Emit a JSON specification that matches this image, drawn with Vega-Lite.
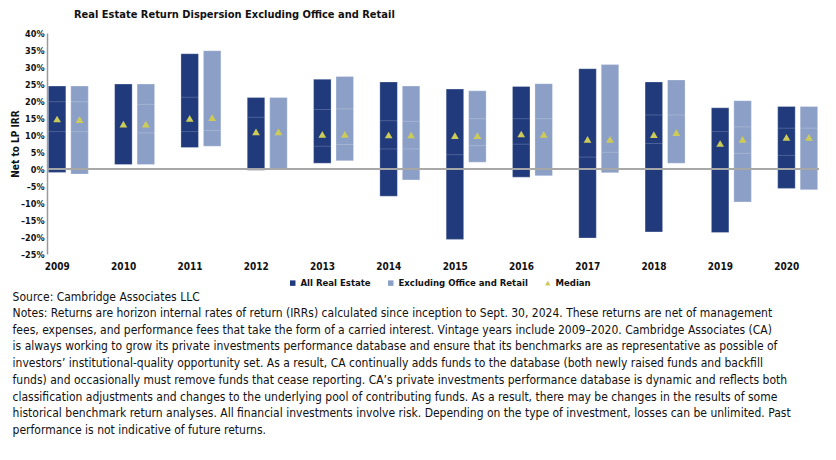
{
  "$schema": "https://vega.github.io/schema/vega-lite/v6.json",
  "background": "white",
  "padding": {"left": 10, "top": 9, "right": 5, "bottom": 5},
  "config": {
    "font": "DejaVu Sans Condensed",
    "view": {"stroke": null},
    "concat": {"spacing": 0},
    "axisY": {
      "labelOverlap": false, "domain": true, "domainColor": "#9a9a9a", "domainWidth": 1.5, "domainOpacity": 1,
      "grid": false, "ticks": false, "tickCount": 13,
      "labelFontWeight": "bold", "labelFontSize": 9, "labelColor": "#111111", "labelPadding": 3,
      "titleFontWeight": "bold", "titleFontSize": 10, "titleColor": "#111111", "titlePadding": 0
    }
  },
  "title": {
    "text": "Source: Cambridge Associates LLC",
    "subtitle": [
      "Notes: Returns are horizon internal rates of return (IRRs) calculated since inception to Sept. 30, 2024. These returns are net of management",
      "fees, expenses, and performance fees that take the form of a carried interest. Vintage years include 2009–2020. Cambridge Associates (CA)",
      "is always working to grow its private investments performance database and ensure that its benchmarks are as representative as possible of",
      "investors’ institutional-quality opportunity set. As a result, CA continually adds funds to the database (both newly raised funds and backfill",
      "funds) and occasionally must remove funds that cease reporting. CA’s private investments performance database is dynamic and reflects both",
      "classification adjustments and changes to the underlying pool of contributing funds. As a result, there may be changes in the results of some",
      "historical benchmark return analyses. All financial investments involve risk. Depending on the type of investment, losses can be unlimited. Past",
      "performance is not indicative of future returns."
    ],
    "orient": "bottom",
    "anchor": "start",
    "frame": "bounds",
    "font": "DejaVu Sans Condensed",
    "fontSize": 12,
    "fontWeight": "normal",
    "color": "#111111",
    "subtitleFont": "DejaVu Sans Condensed",
    "subtitleFontSize": 12,
    "subtitleColor": "#111111",
    "subtitleLineHeight": 16.7,
    "subtitlePadding": 4,
    "offset": 4,
    "dx": 2
  },
  "vconcat": [
    {
      "width": 772,
      "height": 221,
      "title": {
        "text": "Real Estate Return Dispersion Excluding Office and Retail",
        "anchor": "start",
        "frame": "group",
        "dx": 27,
        "fontSize": 11,
        "fontWeight": "bold",
        "color": "#111111",
        "offset": 9
      },
      "data": {
        "values": [
          {"year": "2009", "series": "All Real Estate", "low": -1.0, "high": 24.4, "median": 14.7, "q1": 11.0, "q3": 19.8},
          {"year": "2009", "series": "Excluding Office and Retail", "low": -1.5, "high": 24.4, "median": 14.5, "q1": 11.0, "q3": 19.8},
          {"year": "2010", "series": "All Real Estate", "low": 1.3, "high": 25.0, "median": 13.2, "q1": null, "q3": null},
          {"year": "2010", "series": "Excluding Office and Retail", "low": 1.3, "high": 25.0, "median": 13.2, "q1": 10.6, "q3": 19.0},
          {"year": "2011", "series": "All Real Estate", "low": 6.3, "high": 33.9, "median": 14.9, "q1": 11.0, "q3": 21.1},
          {"year": "2011", "series": "Excluding Office and Retail", "low": 6.7, "high": 34.8, "median": 15.1, "q1": 11.3, "q3": null},
          {"year": "2012", "series": "All Real Estate", "low": -0.4, "high": 21.0, "median": 10.9, "q1": null, "q3": 15.2},
          {"year": "2012", "series": "Excluding Office and Retail", "low": 0.1, "high": 21.0, "median": 10.9, "q1": null, "q3": null},
          {"year": "2013", "series": "All Real Estate", "low": 1.7, "high": 26.4, "median": 10.2, "q1": 6.7, "q3": 17.5},
          {"year": "2013", "series": "Excluding Office and Retail", "low": 2.4, "high": 27.2, "median": 10.2, "q1": 7.2, "q3": 17.7},
          {"year": "2014", "series": "All Real Estate", "low": -8.0, "high": 25.6, "median": 10.0, "q1": 5.9, "q3": 14.2},
          {"year": "2014", "series": "Excluding Office and Retail", "low": -3.2, "high": 24.4, "median": 10.0, "q1": 5.9, "q3": 14.0},
          {"year": "2015", "series": "All Real Estate", "low": -20.7, "high": 23.5, "median": 9.8, "q1": 4.2, "q3": null},
          {"year": "2015", "series": "Excluding Office and Retail", "low": 2.0, "high": 23.0, "median": 9.8, "q1": 6.9, "q3": 14.8},
          {"year": "2016", "series": "All Real Estate", "low": -2.4, "high": 24.3, "median": 10.3, "q1": 7.3, "q3": 14.8},
          {"year": "2016", "series": "Excluding Office and Retail", "low": -2.0, "high": 25.1, "median": 10.2, "q1": null, "q3": 14.8},
          {"year": "2017", "series": "All Real Estate", "low": -20.3, "high": 29.5, "median": 8.7, "q1": 3.5, "q3": null},
          {"year": "2017", "series": "Excluding Office and Retail", "low": -1.1, "high": 30.7, "median": 8.7, "q1": 4.9, "q3": null},
          {"year": "2018", "series": "All Real Estate", "low": -18.5, "high": 25.6, "median": 10.1, "q1": 7.5, "q3": 15.9},
          {"year": "2018", "series": "Excluding Office and Retail", "low": 1.7, "high": 26.2, "median": 10.7, "q1": null, "q3": 15.9},
          {"year": "2019", "series": "All Real Estate", "low": -18.7, "high": 18.0, "median": 7.5, "q1": null, "q3": 11.0},
          {"year": "2019", "series": "Excluding Office and Retail", "low": -9.7, "high": 20.1, "median": 8.7, "q1": 4.6, "q3": 12.4},
          {"year": "2020", "series": "All Real Estate", "low": -5.7, "high": 18.4, "median": 9.3, "q1": 4.0, "q3": 12.0},
          {"year": "2020", "series": "Excluding Office and Retail", "low": -6.1, "high": 18.4, "median": 9.3, "q1": null, "q3": 12.0}
        ]
      },
      "encoding": {
        "x": {
          "field": "year", "type": "nominal",
          "scale": {"paddingInner": 0.397, "paddingOuter": 0.02},
          "axis": {
            "title": null, "domain": false, "ticks": false, "labelAngle": 0,
            "labelFontWeight": "bold", "labelFontSize": 10, "labelColor": "#111111",
            "labelPadding": 7, "labelOffset": -11
          }
        },
        "xOffset": {
          "field": "series", "type": "nominal",
          "sort": ["All Real Estate", "Excluding Office and Retail"],
          "scale": {"paddingInner": 0.22}
        }
      },
      "layer": [
        {
          "mark": {"type": "bar", "stroke": "#ffffff", "strokeOpacity": 0.35, "strokeWidth": 0.8},
          "encoding": {
            "y": {
              "field": "low", "type": "quantitative",
              "scale": {"domain": [-25, 40], "nice": false, "zero": false},
              "axis": {"title": "Net to LP IRR", "labelOverlap": false, "labelExpr": "datum.value < 0 ? '–' + (-datum.value) + '%' : datum.value + '%'"}
            },
            "y2": {"field": "high"},
            "color": {
              "field": "series", "type": "nominal",
              "scale": {
                "domain": ["All Real Estate", "Excluding Office and Retail", "Median"],
                "range": ["#203a7c", "#8ca0c7", "#cdcb58"]
              },
              "legend": {
                "title": null, "orient": "none", "direction": "horizontal",
                "legendX": 241, "legendY": 245, "padding": 0,
                "symbolSize": 30, "symbolStrokeWidth": 0,
                "labelFontWeight": "bold", "labelFontSize": 9.5, "labelColor": "#111111",
                "columnPadding": 15, "labelOffset": 3,
                "encoding": {
                  "symbols": {
                    "shape": {"condition": {"test": "datum.value === 'Median'", "value": "triangle-up"}, "value": "square"}
                  }
                }
              }
            }
          }
        },
        {
          "mark": {"type": "tick", "color": "#ffffff", "opacity": 0.2, "thickness": 1, "size": 17},
          "encoding": {
            "y": {"field": "q1", "type": "quantitative"}
          }
        },
        {
          "mark": {"type": "tick", "color": "#ffffff", "opacity": 0.2, "thickness": 1, "size": 17},
          "encoding": {
            "y": {"field": "q3", "type": "quantitative"}
          }
        },
        {
          "mark": {"type": "rule", "color": "#a8a8a8", "strokeWidth": 1.5, "opacity": 0.7},
          "encoding": {"x": null, "xOffset": null, "y": {"datum": 0}}
        },
        {
          "mark": {"type": "point", "shape": "triangle-up", "filled": true, "size": 60, "opacity": 1},
          "encoding": {
            "y": {"field": "median", "type": "quantitative"},
            "color": {"datum": "Median"}
          }
        }
      ]
    }
  ]
}
